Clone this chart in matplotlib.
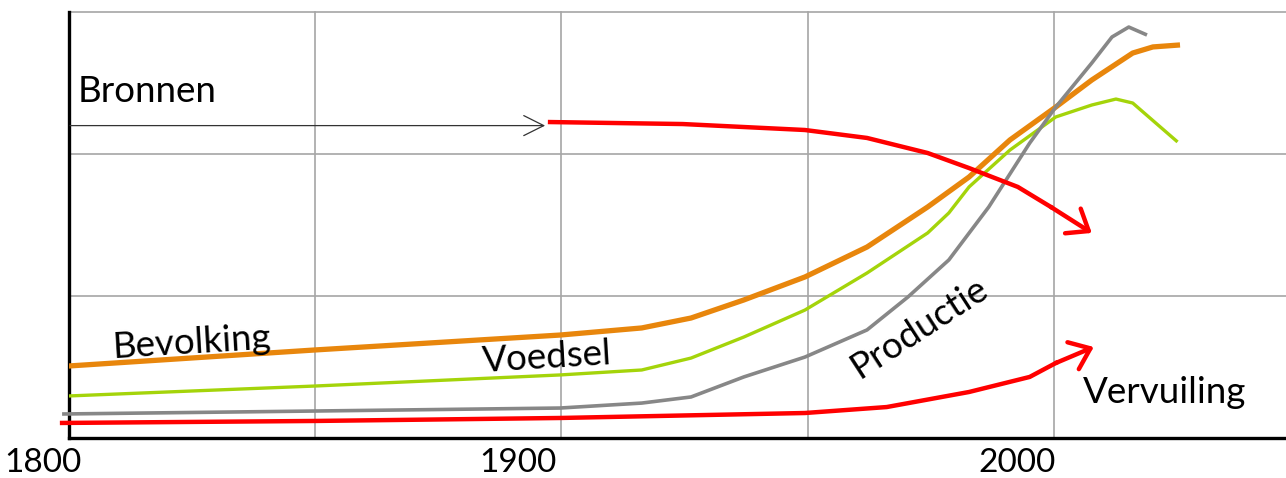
import matplotlib.pyplot as plt

plt.rcParams['font.family'] = ['Lato', 'DejaVu Sans']

# Bevolking (orange)
bev_years = [1800, 1850, 1899.7, 1916.3, 1926.3, 1937.0, 1949.4, 1962.0, 1974.3, 1982.7, 1991.0,
             2000.3, 2007.6, 2015.9, 2020.0, 2025.5]
bev_vals = [0.507, 0.62, 0.725, 0.775, 0.845, 0.972, 1.134, 1.345, 1.627, 1.838, 2.099,
            2.331, 2.521, 2.711, 2.754, 2.768]

# Voedsel (green)
voe_years = [1800, 1850, 1899.7, 1916.3, 1926.3, 1937.0, 1949.4, 1962.0, 1974.3, 1978.6, 1982.7,
             1991.0, 2000.3, 2007.6, 2012.5, 2015.9, 2025.0]
voe_vals = [0.296, 0.366, 0.444, 0.479, 0.563, 0.711, 0.901, 1.162, 1.444, 1.585, 1.768,
            2.028, 2.261, 2.345, 2.387, 2.359, 2.085]

# Productie (gray)
pro_years = [1798.7, 1850, 1899.7, 1916.3, 1926.3, 1937.0, 1949.4, 1962.0, 1970.3, 1978.6, 1986.7,
             1995.0, 2000.3, 2007.6, 2011.7, 2015.1, 2018.8]
pro_vals = [0.169, 0.190, 0.211, 0.246, 0.289, 0.430, 0.570, 0.761, 0.993, 1.254, 1.627,
            2.077, 2.331, 2.641, 2.824, 2.894, 2.838]

# Vervuiling (red, bottom) - last point is the arrow tip
ver_years = [1798.7, 1850, 1899.7, 1949.4, 1966.0, 1982.7, 1995.0, 2000.3, 2008.0]
ver_vals = [0.106, 0.120, 0.141, 0.176, 0.218, 0.324, 0.430, 0.528, 0.641]

# Bronnen (red, top) - last point is the arrow tip
bro_years = [1897.7, 1924.6, 1949.4, 1962.0, 1974.3, 1982.7, 1992.6, 1999.3, 2007.6]
bro_vals = [2.225, 2.211, 2.169, 2.113, 2.007, 1.901, 1.768, 1.627, 1.444]

tick_years = [1800, 1900, 2000]
tick_pos = [1794.8, 1891.2, 1992.4]

fig = plt.figure(figsize=(12.86, 4.78), dpi=100)
ax = fig.add_axes([68.5 / 1286, 40 / 478, 1 - 68.5 / 1286, 3.03 * 142 / 478])
ax.set_xlim(1800, 2047)
ax.set_ylim(0, 3.03)

# grid
for x in [1850, 1900, 1950, 2000]:
    ax.axvline(x, ymax=3.0 / 3.03, color='#a6a6a6', lw=1.2, zorder=0)
for y in [1, 2, 3]:
    ax.axhline(y, color='#a6a6a6', lw=1.2, zorder=0)

ax.set_xticks([])
ax.set_yticks([])
for s in ['top', 'right']:
    ax.spines[s].set_visible(False)
ax.spines['left'].set_linewidth(2.4)
ax.spines['bottom'].set_linewidth(2.4)
ax.spines['left'].set_bounds(0, 3.0)

ax.plot(bev_years, bev_vals, color='#e8860c', lw=3.8, solid_capstyle='butt', zorder=3)
ax.plot(voe_years, voe_vals, color='#a4d40a', lw=2.4, solid_capstyle='butt', zorder=3)
ax.plot(pro_years, pro_vals, color='#878787', lw=2.6, solid_capstyle='butt', zorder=3, clip_on=False)
ax.plot(ver_years[:-1], ver_vals[:-1], color='#ff0000', lw=3.2, zorder=4, clip_on=False)
ax.plot(bro_years[:-1], bro_vals[:-1], color='#ff0000', lw=3.2, zorder=4)

arrow_red = dict(arrowstyle='->,head_length=0.45,head_width=0.35', color='#ff0000', lw=3.2,
                 mutation_scale=30, shrinkA=0, shrinkB=0)
ax.annotate('', xy=(ver_years[-1], ver_vals[-1]), xytext=(ver_years[-2], ver_vals[-2]),
            arrowprops=arrow_red, zorder=4)
ax.annotate('', xy=(bro_years[-1], bro_vals[-1]), xytext=(bro_years[-2], bro_vals[-2]),
            arrowprops=arrow_red, zorder=4)

# Bronnen arrow
ax.annotate('', xy=(1896.7, 2.20), xytext=(1800.3, 2.20),
            arrowprops=dict(arrowstyle='->,head_length=0.4,head_width=0.2', color='#333333',
                            lw=0.9, mutation_scale=36, shrinkA=0, shrinkB=0))

ax.text(1801.9, 2.366, 'Bronnen', fontsize=26.5, ha='left', va='baseline')
ax.text(1825.0, 0.669, 'Bevolking', fontsize=26.5, ha='center', va='center', rotation=3.5)
ax.text(1897, 0.563, 'Voedsel', fontsize=26.5, ha='center', va='center', rotation=3.5)
ax.text(1972.7, 0.775, 'Productie', fontsize=26.5, ha='center', va='center', rotation=33)
ax.text(2005.8, 0.246, 'Vervuiling', fontsize=26.5, ha='left', va='baseline')

for p, t in zip(tick_pos, tick_years):
    ax.text(p, -0.24, str(t), fontsize=24, ha='center', va='baseline')

fig.savefig('out.png', dpi=100)
